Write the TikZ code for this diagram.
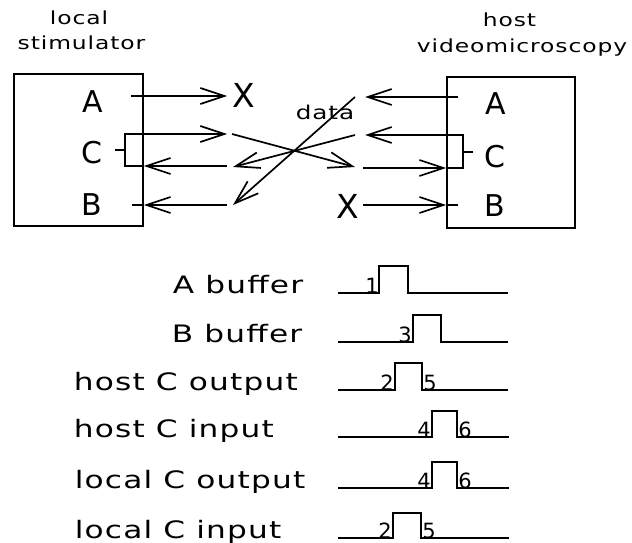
\documentclass[tikz,border=0pt]{standalone}
\usepackage{fontspec}
\usetikzlibrary{arrows.meta}
\newfontfamily\hfont[FakeStretch=1.3,LetterSpace=5]{DejaVu Sans}
\newfontfamily\bfont{DejaVu Sans}
\tikzset{
  every picture/.style={line width=1.7pt},
  arr/.style={-{Straight Barb[length=24pt,width=16pt,line width=1.7pt]}},
  box/.style={draw,inner sep=0pt},
  ttl/.style={inner sep=0pt,anchor=base,font=\hfont\fontsize{18}{18}\selectfont},
  lbl/.style={inner sep=0pt,anchor=base west,font=\hfont\fontsize{24}{24}\selectfont},
  pin/.style={inner sep=0pt,anchor=base,font=\bfont\fontsize{30}{30}\selectfont},
  xmark/.style={inner sep=0pt,anchor=base,font=\bfont\fontsize{33}{33}\selectfont},
  dig/.style={inner sep=0pt,anchor=base,font=\bfont\fontsize{21}{21}\selectfont},
  wave/.style={line width=1.6pt},
}
\begin{document}
\begin{tikzpicture}[x=1pt,y=-1pt]
\useasboundingbox (0,0) rectangle (632,543);
% titles
\node[ttl] (t1) at (79,25) {local};
\node[ttl] (t2) at (81.5,50) {stimulator};
\node[ttl] (t3) at (509.5,27) {host};
\node[ttl] (t4) at (522,53) {videomicroscopy};
% boxes
\node[box,minimum width=129,minimum height=152] (L) at (78.5,150) {};
\node[box,minimum width=128,minimum height=151] (R) at (511,152.5) {};
% pin letters
\node[pin] (LA) at (92.5,112) {A};
\node[pin] (LC) at (92,163) {C};
\node[pin] (LB) at (92,215) {B};
\node[pin] (RA) at (496,114) {A};
\node[pin] (RC) at (494.5,167) {C};
\node[pin] (RB) at (495,216) {B};
% X marks
\node[xmark] (XL) at (244,107) {X};
\node[xmark] (XR) at (348,218) {X};
% data label
\node[inner sep=0pt,anchor=base,font=\hfont\fontsize{19}{19}\selectfont] (D) at (325,119) {data};
% coordinates
\coordinate (la0) at (131,96);
\coordinate (la1) at (227,96);
\coordinate (lbt) at (125,134);
\coordinate (lbb) at (125,166);
\coordinate (ltk) at (115,150);
\coordinate (lco) at (227,134);
\coordinate (lci) at (227,166);
\coordinate (lb0) at (132,205);
\coordinate (lb1) at (227,205);
\coordinate (ra0) at (458,97);
\coordinate (ra1) at (365,97);
\coordinate (rbt) at (463,135);
\coordinate (rbb) at (463,168);
\coordinate (rtk) at (473,152);
\coordinate (rco) at (365,135);
\coordinate (rci) at (363,168);
\coordinate (rb0) at (363,205);
\coordinate (rb1) at (458,205);
\coordinate (c1s) at (232,134);
\coordinate (c1e) at (355,167);
\coordinate (c2s) at (355,135);
\coordinate (c2e) at (233,167);
\coordinate (c3s) at (355,97);
\coordinate (c3e) at (233,205);
% left side
\draw[arr] (la0) -- (la1);
\draw (L.east |- lbt) -- (lbt) -- (lbb) -- (L.east |- lbb);
\draw (ltk) -- (lbt |- ltk);
\draw[arr] (L.east |- lbt) -- (lco);
\draw[arr] (lci) -- (L.east |- lci);
\draw[arr] (lb1) -- (L.east |- lb1);
\draw (L.east |- lb1) -- (lb0);
% right side
\draw[arr] (ra0) -- (ra1);
\draw (R.west |- rbt) -- (rbt) -- (rbb) -- (R.west |- rbb);
\draw (rtk) -- (rbt |- rtk);
\draw[arr] (R.west |- rbt) -- (rco);
\draw[arr] (rci) -- (R.west |- rci);
\draw[arr] (rb0) -- (R.west |- rb0);
\draw (R.west |- rb0) -- (rb1);
% crossing
\draw[arr] (c1s) -- (c1e);
\draw[arr] (c2s) -- (c2e);
\draw[arr] (c3s) -- (c3e);
% timing labels
\node[lbl] (w1) at (172,293) {A buffer};
\node[lbl] (w2) at (171,342) {B buffer};
\node[lbl] (w3) at (73,390) {host C output};
\node[lbl] (w4) at (73,437) {host C input};
\node[lbl] (w5) at (74,488) {local C output};
\node[lbl] (w6) at (74,538) {local C input};
% waveforms
\draw[wave] (338,293) -- (379,293) -- (379,266) -- (408,266) -- (408,293) -- (508,293);
\draw[wave] (338,342) -- (413,342) -- (413,315) -- (441,315) -- (441,342) -- (508,342);
\draw[wave] (338,390) -- (395,390) -- (395,363) -- (422,363) -- (422,390) -- (508,390);
\draw[wave] (338,437) -- (432,437) -- (432,411) -- (457,411) -- (457,437) -- (509,437);
\draw[wave] (338,488) -- (432,488) -- (432,462) -- (457,462) -- (457,488) -- (509,488);
\draw[wave] (338,538) -- (393,538) -- (393,513) -- (421,513) -- (421,538) -- (509,538);
% digits
\node[dig] (n1) at (372,293) {1};
\node[dig] (n3) at (405,342) {3};
\node[dig] (n2a) at (387,390) {2};
\node[dig] (n5a) at (430,390) {5};
\node[dig] (n4a) at (424,437) {4};
\node[dig] (n6a) at (465,437) {6};
\node[dig] (n4b) at (424,488) {4};
\node[dig] (n6b) at (465,488) {6};
\node[dig] (n2b) at (385,538) {2};
\node[dig] (n5b) at (429,538) {5};
\end{tikzpicture}
\end{document}
